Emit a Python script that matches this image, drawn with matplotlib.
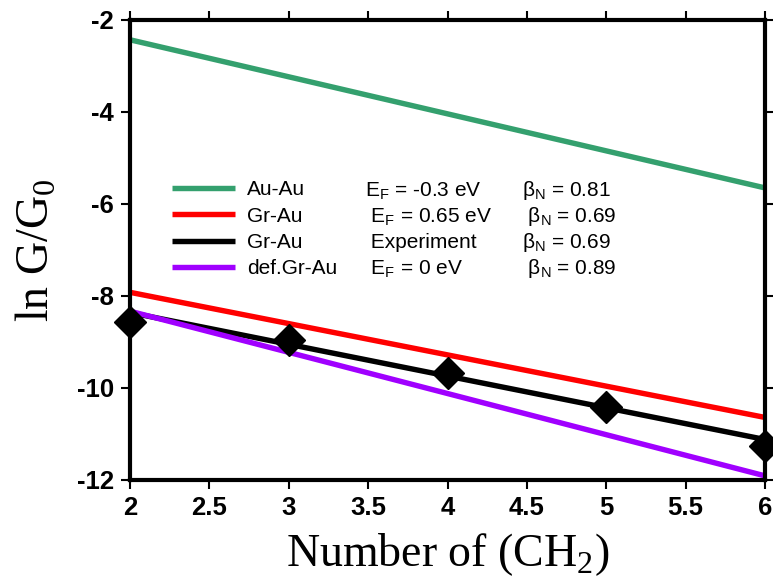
import numpy as np
import matplotlib.pyplot as plt
from matplotlib.ticker import FuncFormatter

plt.rcParams['font.family'] = ['Liberation Sans', 'DejaVu Sans']

# fitted lines, value at n = 2 and n = 6
n_fit = [2, 6]
au_au = [-2.43, -5.65]
gr_au = [-7.92, -10.64]
gr_au_exp = [-8.36, -11.12]
def_gr_au = [-8.33, -11.91]

# experimental points
n_exp = [2, 3, 4, 5, 6]
g_exp = [-8.56, -8.96, -9.67, -10.41, -11.27]

names = ['Au-Au', 'Gr-Au', 'Gr-Au', 'def.Gr-Au']
ef_text = [r'E$_\mathregular{F}$ = -0.3 eV', r' E$_\mathregular{F}$ = 0.65 eV',
           ' Experiment', r' E$_\mathregular{F}$ = 0 eV']
beta_text = [r'β$_\mathregular{N}$ = 0.81', r' β$_\mathregular{N}$ = 0.69',
             r'β$_\mathregular{N}$ = 0.69', r' β$_\mathregular{N}$ = 0.89']

green = '#34a06e'
red = '#ff0000'
purple = '#a000ff'

fig = plt.figure(figsize=(7.73, 5.79), dpi=100)
ax = fig.add_axes([130/773, 1 - 480/579, 635/773, 460/579])

lw = 3.9
l1, = ax.plot(n_fit, au_au, color=green, lw=lw, solid_capstyle='butt')
l2, = ax.plot(n_fit, gr_au, color=red, lw=lw, solid_capstyle='butt')
l3, = ax.plot(n_fit, gr_au_exp, color='black', lw=lw, solid_capstyle='butt')
l4, = ax.plot(n_fit, def_gr_au, color=purple, lw=lw, solid_capstyle='butt')
ax.plot(n_exp, g_exp, 'D', color='black', ms=16, clip_on=False, zorder=5)

ax.set_xlim(2, 6)
ax.set_ylim(-12, -2)
ax.set_xticks(np.arange(2, 6.01, 0.5))
ax.set_yticks(np.arange(-12, -1, 2))
ax.xaxis.set_major_formatter(FuncFormatter(lambda v, p: f'{v:g}'))
ax.yaxis.set_major_formatter(FuncFormatter(lambda v, p: f'{v:g}'))
ax.tick_params(direction='out', length=6.5, width=1.5, top=True, right=True,
               labelsize=18.5)
ax.tick_params(axis='y', pad=5)
ax.tick_params(axis='x', pad=5)
for lab in ax.get_xticklabels() + ax.get_yticklabels():
    lab.set_fontweight('bold')
for s in ax.spines.values():
    s.set_linewidth(3)

ax.set_xlabel(r'Number of (CH$_\mathregular{2}$)', fontfamily='Liberation Serif',
              fontsize=33, labelpad=8)
ax.set_ylabel(r'ln G/G$_\mathregular{0}$', fontfamily='Liberation Serif',
              fontsize=33, labelpad=13)

leg = ax.legend([l1, l2, l3, l4], names, loc='upper left', frameon=False,
                fontsize=15, handlelength=3.0, handletextpad=0.6,
                labelspacing=0.36, borderpad=0, borderaxespad=0,
                bbox_to_anchor=((172 - 130) / 635, (480 - 180) / 460))

rows_y = [191, 217, 243, 269]
for i, y in enumerate(rows_y):
    yf = (480 - y) / 460
    ax.text((365 - 130) / 635, yf, ef_text[i], transform=ax.transAxes,
            fontsize=15, va='center', ha='left')
    ax.text((522 - 130) / 635, yf, beta_text[i], transform=ax.transAxes,
            fontsize=15, va='center', ha='left')

fig.savefig('out.png', dpi=100)
